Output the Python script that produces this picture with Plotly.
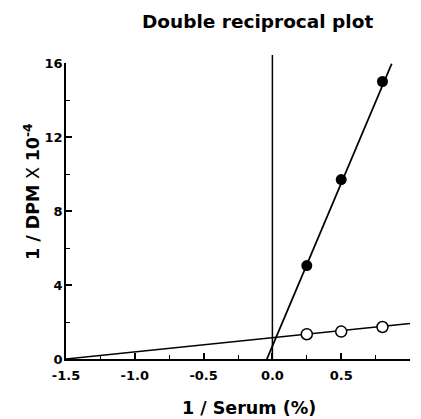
import plotly.graph_objects as go
import numpy as np

# Data
inv_serum = [0.25, 0.5, 0.8]
filled_y = [5.05, 9.7, 15.0]
open_y = [1.34, 1.48, 1.73]

# Regression lines (slope, intercept)
filled_slope, filled_intercept = 17.6, 0.70
open_slope, open_intercept = 0.77, 1.155
filled_line_x = [-0.04, 0.867]
open_line_x = [-1.5, 1.0]

x_ticks = [-1.5, -1.0, -0.5, 0.0, 0.5, 1.0]
x_ticklabels = ["-1.5", "-1.0", "-0.5", "0.0", "0.5", "1.0"]
y_ticks = [0, 4, 8, 12, 16]
y_ticklabels = ["0", "4", "8", "12", "16"]

FONT = "DejaVu Sans, Liberation Sans, Arial, sans-serif"
W, H = 421, 419
L, R, T, B = 66, 11, 63, 60

fig = go.Figure()

fx = np.array(filled_line_x)
ox = np.array(open_line_x)
fig.add_trace(go.Scatter(x=fx, y=filled_slope * fx + filled_intercept, mode="lines",
                         line=dict(color="black", width=1.8), showlegend=False, hoverinfo="skip"))
fig.add_trace(go.Scatter(x=ox, y=open_slope * ox + open_intercept, mode="lines",
                         line=dict(color="black", width=1.5), showlegend=False, hoverinfo="skip"))
fig.add_trace(go.Scatter(x=inv_serum, y=filled_y, mode="markers",
                         marker=dict(symbol="circle", size=11, color="black"),
                         showlegend=False, cliponaxis=False))
fig.add_trace(go.Scatter(x=inv_serum, y=open_y, mode="markers",
                         marker=dict(symbol="circle", size=11, color="white",
                                     line=dict(color="black", width=1.5)),
                         showlegend=False, cliponaxis=False))

# vertical line at x = 0
fig.add_shape(type="line", xref="x", yref="paper", x0=0, x1=0, y0=0, y1=1.027,
              line=dict(color="black", width=1.5))

plot_w = W - L - R
plot_h = H - T - B


def px_x(p):
    return (p - L) / plot_w


def px_y(p):
    return (H - B - p) / plot_h


fig.add_annotation(text="<b>Double reciprocal plot</b>", xref="paper", yref="paper",
                   x=px_x(257), y=px_y(22), xanchor="center", yanchor="middle",
                   showarrow=False, font=dict(size=18.5, family=FONT, color="black"))
fig.add_annotation(text="<b>1 / Serum (%)</b>", xref="paper", yref="paper",
                   x=px_x(249), y=px_y(408), xanchor="center", yanchor="middle",
                   showarrow=False, font=dict(size=17.5, family=FONT, color="black"))
fig.add_annotation(text="<b>1 / DPM</b> X <b>10<sup>-4</sup></b>", xref="paper", yref="paper",
                   x=px_x(32), y=px_y(192), xanchor="center", yanchor="middle", textangle=-90,
                   showarrow=False, font=dict(size=17.5, family=FONT, color="black"))

fig.update_layout(
    width=W, height=H,
    margin=dict(l=L, r=R, t=T, b=B),
    paper_bgcolor="white", plot_bgcolor="white",
    font=dict(family=FONT, color="black"),
    xaxis=dict(range=[-1.5, 1.0], tickvals=x_ticks, ticktext=x_ticklabels,
               automargin=False,
               showgrid=False, zeroline=False, showline=True, linecolor="black", linewidth=1.5,
               ticks="inside", ticklen=6, tickwidth=1.5, tickcolor="black",
               tickfont=dict(size=13, weight="bold"), ticklabelstandoff=4,
               minor=dict(dtick=0.25, tick0=0, ticks="inside", ticklen=4, tickwidth=1.2,
                          tickcolor="black", showgrid=False)),
    yaxis=dict(range=[0, 16], tickvals=y_ticks, ticktext=y_ticklabels,
               automargin=False,
               showgrid=False, zeroline=False, showline=True, linecolor="black", linewidth=1.5,
               ticks="inside", ticklen=6, tickwidth=1.5, tickcolor="black",
               tickfont=dict(size=13, weight="bold"), ticklabelstandoff=-1,
               minor=dict(dtick=2, tick0=0, ticks="inside", ticklen=4, tickwidth=1.2,
                          tickcolor="black", showgrid=False)),
)

fig.write_html("out.html")
